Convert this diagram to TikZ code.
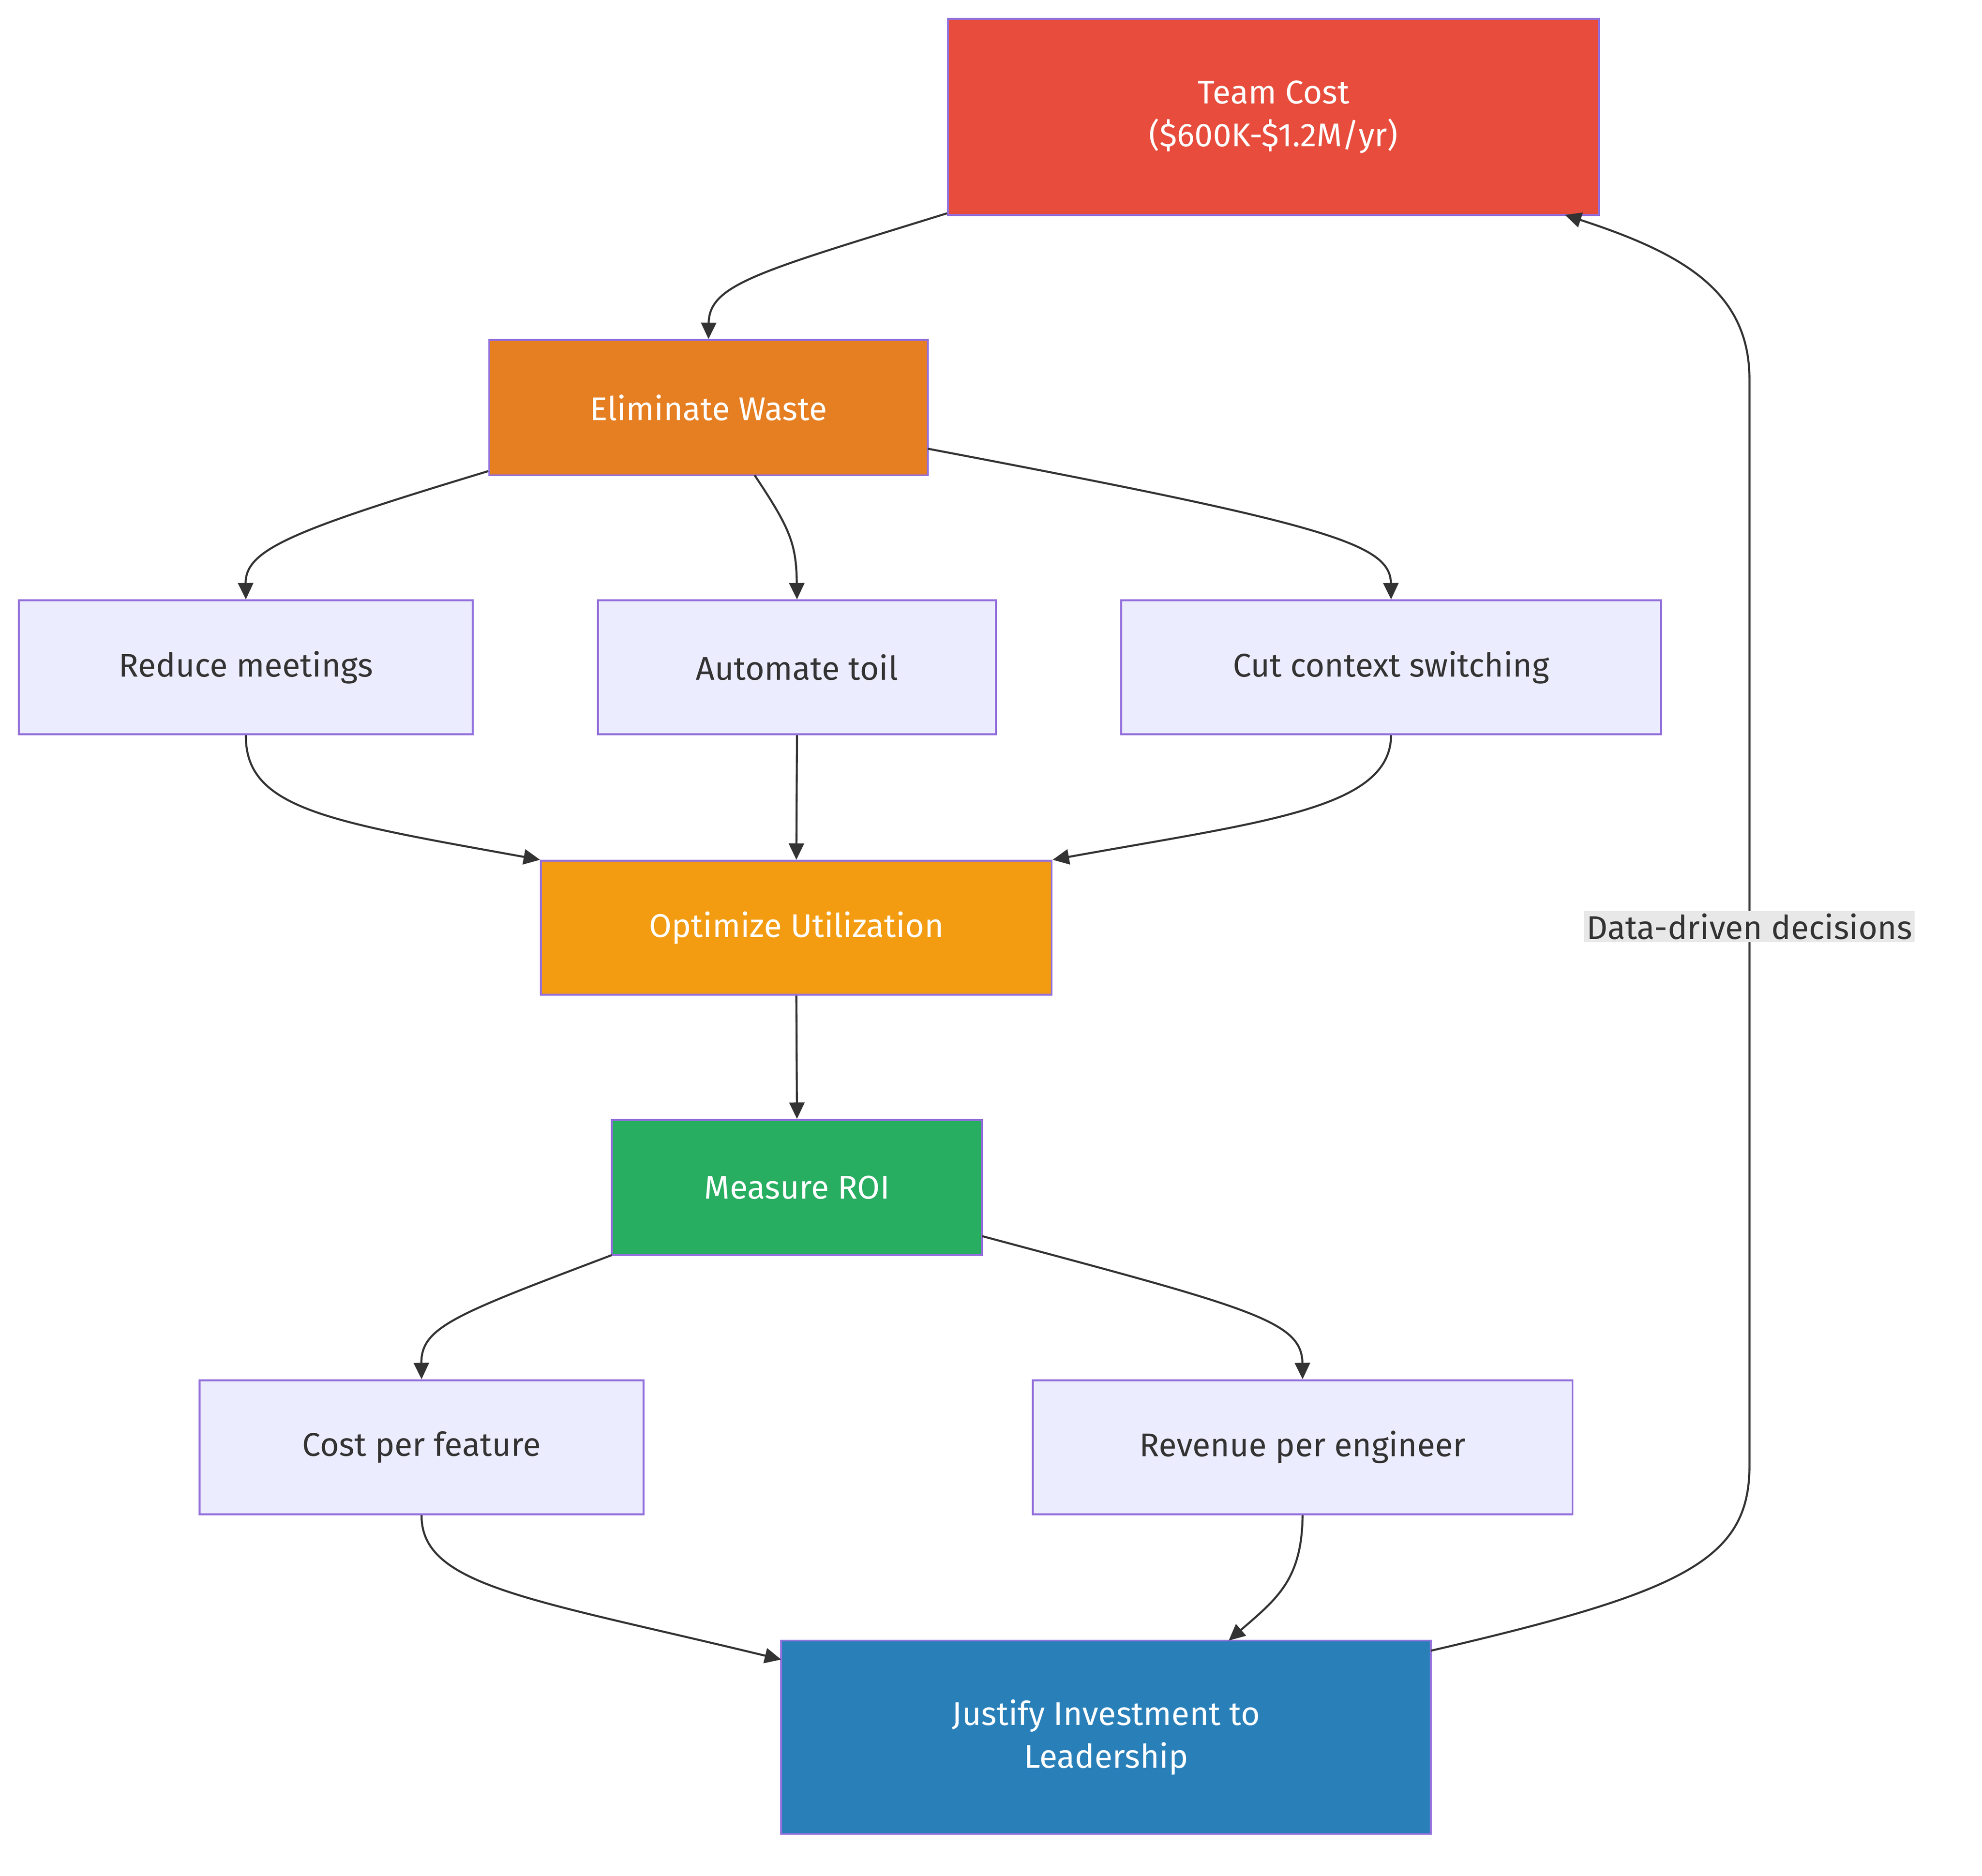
\documentclass[tikz,border=0pt]{standalone}
\usepackage{fontspec}
\setmainfont{Fira Sans}
\usetikzlibrary{arrows.meta}
\definecolor{lav}{HTML}{ECECFF}
\definecolor{purp}{HTML}{9370DB}
\definecolor{ln}{HTML}{333333}
\definecolor{cRed}{HTML}{E74C3C}
\definecolor{cOra}{HTML}{E67E22}
\definecolor{cYel}{HTML}{F39C12}
\definecolor{cGrn}{HTML}{27AE60}
\definecolor{cBlu}{HTML}{2980B9}
\begin{document}
\begin{tikzpicture}[x=1pt,y=-1pt,
 box/.style={draw=purp,line width=1.5pt,fill=lav,inner sep=0pt,font=\fontsize{26}{34}\selectfont,text=ln,align=center},
 col/.style={box,fill=#1,text=white},
 e/.style={draw=ln,line width=1.6pt,-{Triangle[length=13pt,width=12pt]}}]
\useasboundingbox (0,0) rectangle (1568,1484);
\node[col=cRed,minimum width=515pt,minimum height=155pt] (tc) at (1007.5,92.5) {Team Cost\\(\$600K-\$1.2M/yr)};
\node[col=cOra,minimum width=347pt,minimum height=107pt] (ew) at (560.5,322.5) {Eliminate Waste};
\node[box,minimum width=359pt,minimum height=106pt] (rm) at (194.5,528) {Reduce meetings};
\node[box,minimum width=315pt,minimum height=106pt] (at) at (630.5,528) {Automate toil};
\node[box,minimum width=427pt,minimum height=106pt] (cc) at (1100.5,528) {Cut context switching};
\node[col=cYel,minimum width=404pt,minimum height=106pt] (ou) at (630,734) {Optimize Utilization};
\node[col=cGrn,minimum width=293pt,minimum height=107pt] (mr) at (630.5,939.5) {Measure ROI};
\node[box,minimum width=351pt,minimum height=106pt] (cf) at (333.5,1145) {Cost per feature};
\node[box,minimum width=427pt,minimum height=106pt] (rv) at (1030.5,1145) {Revenue per engineer};
\node[col=cBlu,minimum width=514pt,minimum height=153pt] (ji) at (875,1374.5) {Justify Investment to\\Leadership};
\coordinate (a1) at ([yshift=2pt]tc.south west);
\coordinate (a2) at ([yshift=4pt]ew.south west);
\draw[e] (a1) .. controls (600,215) and (561,225) .. (ew.north);
\draw[e] (a2) .. controls (230,420) and (194,435) .. (rm.north);
\draw[e] (597,376) .. controls (625,418) and (630,430) .. (at.north);
\draw[e] (734,355) .. controls (1050,415) and (1100,430) .. (cc.north);
\draw[e] (rm.south) .. controls (194,640) and (260,650) .. (ou.north west);
\draw[e] (at.south) -- (ou.north);
\draw[e] (cc.south) .. controls (1100,640) and (1000,650) .. (ou.north east);
\draw[e] (ou.south) -- (mr.north);
\draw[e] (484,993) .. controls (360,1040) and (333,1050) .. (cf.north);
\draw[e] (777,978) .. controls (990,1035) and (1030,1045) .. (rv.north);
\draw[e] (cf.south) .. controls (333,1255) and (420,1265) .. (618,1313);
\draw[e] (rv.south) .. controls (1030,1250) and (1010,1265) .. (972,1298);
\coordinate (lb) at (1384,733);
\draw[e] (1132,1306) .. controls (1330,1260) and (1384,1235) .. (1384,1160) -- (1384,300) .. controls (1384,230) and (1330,200) .. (1238,170);
\node[fill=gray!18,inner sep=2pt,font=\fontsize{26}{30}\selectfont,text=ln] (lab) at (lb) {Data-driven decisions};
\end{tikzpicture}
\end{document}
